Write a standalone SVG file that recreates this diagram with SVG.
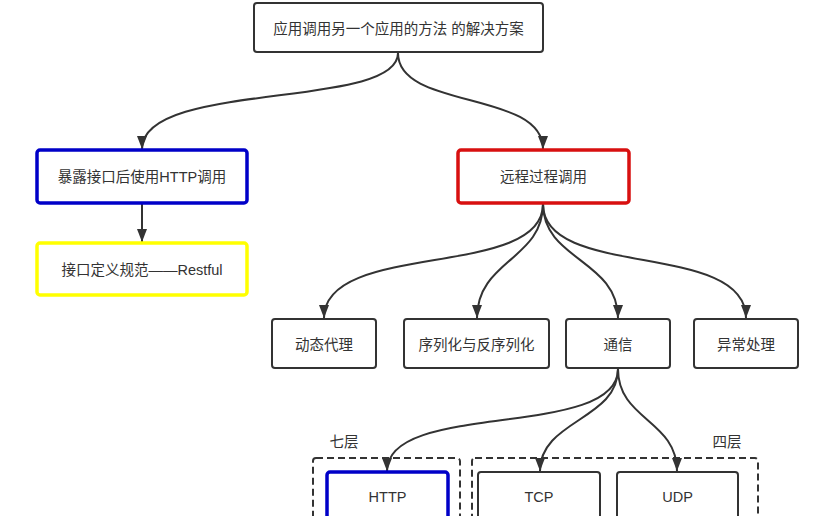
<svg xmlns="http://www.w3.org/2000/svg" width="819" height="516" viewBox="0 0 819 516">
<defs>
<marker id="arr" markerUnits="userSpaceOnUse" markerWidth="13" markerHeight="10" refX="13" refY="5" orient="auto" viewBox="0 0 13 10">
<path d="M0,0 L13,5 L0,10 z" fill="#333"/>
</marker>
<style>
.box{fill:#fff;stroke:#333;stroke-width:2}
.blue{fill:#fff;stroke:#0000c8;stroke-width:3.5}
.red{fill:#fff;stroke:#d81010;stroke-width:3.5}
.yellow{fill:#fff;stroke:#ffff00;stroke-width:3.5}
.grp{fill:none;stroke:#333;stroke-width:2;stroke-dasharray:7 4}
.t{font-family:"Liberation Sans","Noto Sans CJK SC",sans-serif;font-size:14.5px;fill:#333;text-anchor:middle;dominant-baseline:central}
.e{fill:none;stroke:#333;stroke-width:2;marker-end:url(#arr)}
</style>
</defs>
<rect width="819" height="516" fill="#fff"/>
<g id="connectors">
<path class="e" d="M398 53 C398 110,142 80,142 149"/>
<path class="e" d="M398 53 C398 110,543 90,543 149"/>
<path class="e" d="M142 204 L142 242"/>
<path class="e" d="M543 204 C543 280,324 240,324 318"/>
<path class="e" d="M543 204 C543 260,477 260,477 318"/>
<path class="e" d="M543 204 C543 260,618 260,618 318"/>
<path class="e" d="M543 204 C543 280,746 240,746 318"/>
<path class="e" d="M618 369 C618 440,387 400,387 471"/>
<path class="e" d="M618 369 C618 420,540 420,540 471"/>
<path class="e" d="M618 369 C618 420,677 420,677 471"/>
</g>
<g id="top"><rect class="box" x="254" y="3" width="289" height="49" rx="3"/><text class="t" x="398.5" y="29">应用调用另一个应用的方法 的解决方案</text></g>
<g id="http-call"><rect class="blue" x="37" y="150" width="210" height="53" rx="3"/><text class="t" x="142" y="177">暴露接口后使用HTTP调用</text></g>
<g id="restful"><rect class="yellow" x="37" y="243" width="210" height="52" rx="3"/><text class="t" x="142" y="270">接口定义规范——Restful</text></g>
<g id="rpc"><rect class="red" x="458" y="150" width="171" height="53" rx="3"/><text class="t" x="543.5" y="177">远程过程调用</text></g>
<g id="proxy"><rect class="box" x="272" y="319" width="104" height="49" rx="3"/><text class="t" x="324" y="345">动态代理</text></g>
<g id="serial"><rect class="box" x="404" y="319" width="145" height="49" rx="3"/><text class="t" x="476.5" y="345">序列化与反序列化</text></g>
<g id="comm"><rect class="box" x="566" y="319" width="104" height="49" rx="3"/><text class="t" x="618" y="345">通信</text></g>
<g id="error"><rect class="box" x="694" y="319" width="104" height="49" rx="3"/><text class="t" x="746" y="345">异常处理</text></g>
<g id="layer7"><rect class="grp" x="313" y="458" width="147" height="90" rx="3"/><text class="t" x="344" y="442">七层</text></g>
<g id="layer4"><rect class="grp" x="472" y="458" width="286" height="90" rx="3"/><text class="t" x="727" y="442">四层</text></g>
<g id="http"><rect class="blue" x="327" y="472" width="121" height="70" rx="3"/><text class="t" x="387.5" y="497">HTTP</text></g>
<g id="tcp"><rect class="box" x="478" y="472" width="122" height="70" rx="3"/><text class="t" x="539" y="497">TCP</text></g>
<g id="udp"><rect class="box" x="617" y="472" width="121" height="70" rx="3"/><text class="t" x="677.5" y="497">UDP</text></g>
</svg>
